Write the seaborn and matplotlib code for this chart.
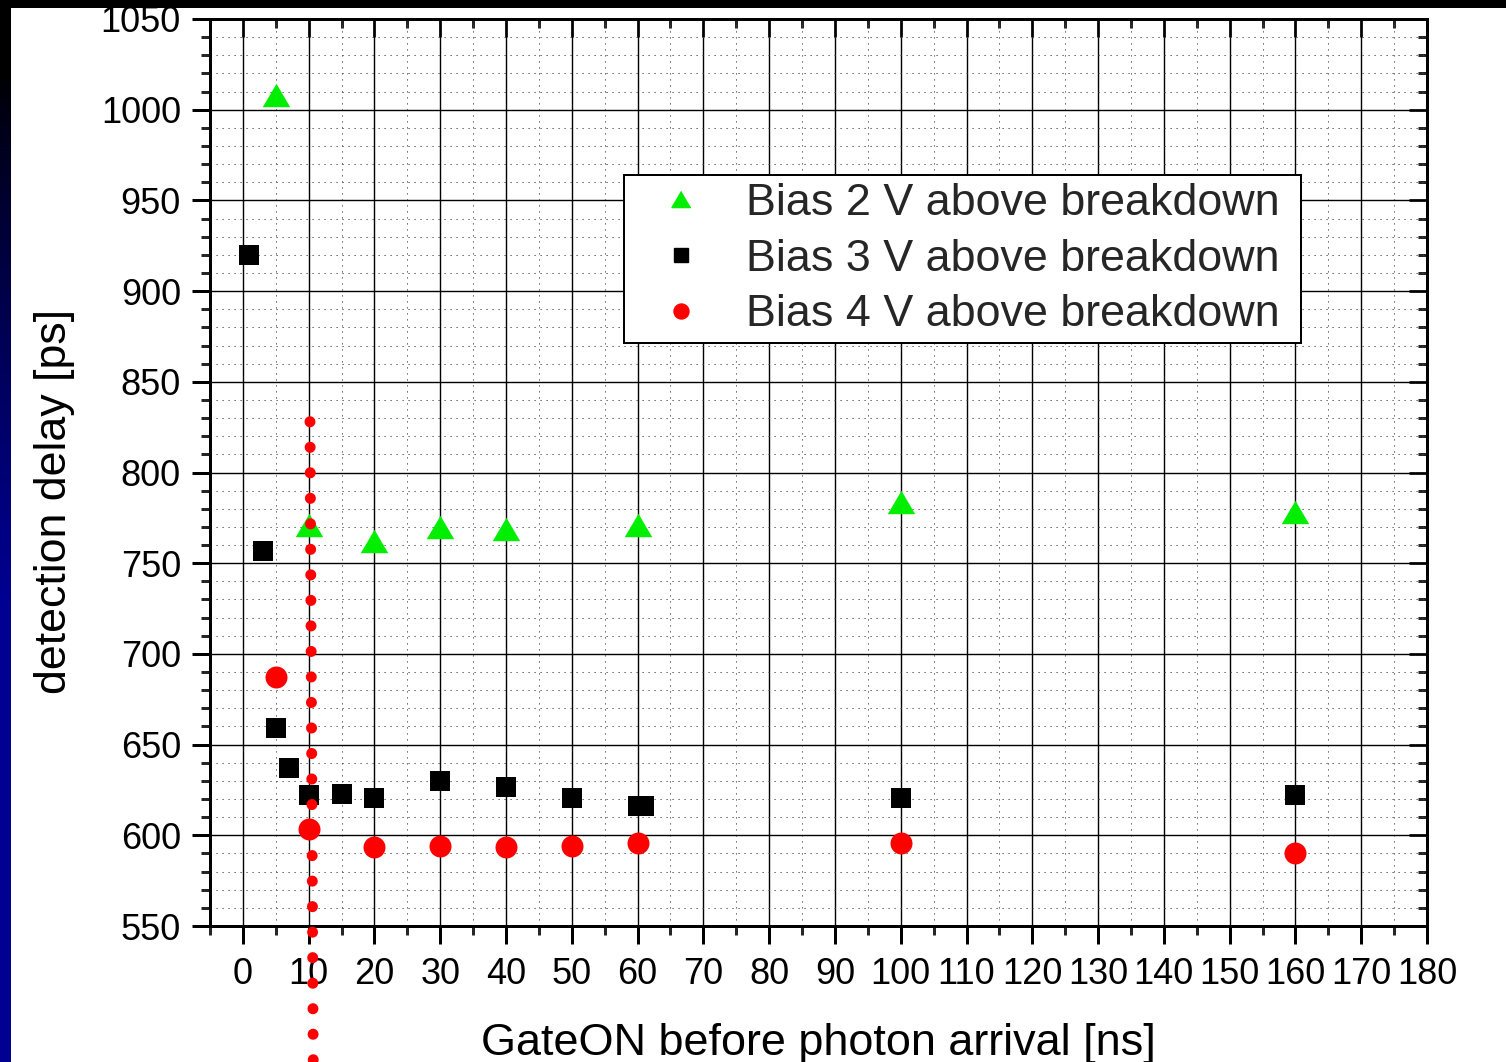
import numpy as np
import pandas as pd
import matplotlib
matplotlib.use("Agg")
import matplotlib.pyplot as plt
from matplotlib.lines import Line2D
from matplotlib.patches import Rectangle
from matplotlib.ticker import MultipleLocator
import seaborn as sns

# ---- measured detection delays ----
bias2_x = [5, 10, 20, 30, 40, 60, 100, 160]
bias2_y = [1008, 771, 762, 770, 769, 771, 784, 778]

bias3_x = [1, 3, 5, 7, 10, 15, 20, 30, 40, 50, 60, 61, 100, 160]
bias3_y = [920, 756.5, 659, 637, 622, 623, 620.5, 630, 626.5, 620.5, 616, 616, 620.5, 622]

bias4_x = [5, 10, 20, 30, 40, 50, 60, 100, 160]
bias4_y = [687, 603.5, 593.5, 594, 593.5, 594, 596, 596, 590.5]

labels = ["Bias 2 V above breakdown",
          "Bias 3 V above breakdown",
          "Bias 4 V above breakdown"]

# marker line at the 10 ns gate position
gate_line_x = [10.2, 10.7]
gate_line_y = [828, 470]

xlabel = "GateON before photon arrival [ns]"
ylabel = "detection delay [ps]"
x_ticks = list(range(0, 181, 10))
y_ticks = list(range(550, 1051, 50))

df = pd.concat([
    pd.DataFrame({"x": bias2_x, "y": bias2_y, "series": labels[0]}),
    pd.DataFrame({"x": bias3_x, "y": bias3_y, "series": labels[1]}),
    pd.DataFrame({"x": bias4_x, "y": bias4_y, "series": labels[2]}),
])

sns.set_style("ticks")
plt.rcParams["font.family"] = ["Liberation Sans", "DejaVu Sans"]

DPI = 100
PT = 0.72  # points per pixel at this dpi
fig = plt.figure(figsize=(15.06, 10.62), dpi=DPI)
fig.patch.set_facecolor("white")

# slide background: black band at top, dark blue strip on the left
fig.patches.append(Rectangle((0, 1 - 8 / 1062), 1, 8 / 1062, transform=fig.transFigure,
                             facecolor="black", edgecolor="none", zorder=-5))
strip = fig.add_axes([0, 0, 11 / 1506, 1 - 8 / 1062])
rows = np.linspace(0, 1, 400)
blue = np.clip((rows - 0.06) / 0.5, 0, 1) ** 0.8 * 0.57
grad = np.zeros((400, 1, 3))
grad[:, 0, 2] = blue
strip.imshow(grad, aspect="auto", extent=[0, 1, 1, 0])
strip.set_axis_off()

ax = fig.add_axes([210 / 1506, 136 / 1062, 1217 / 1506, 907 / 1062])
ax.set_facecolor("white")

tri = [(0, 0.85), (-1, -0.85), (1, -0.85)]
styles = {labels[0]: dict(marker=tri, color="#00ee00", s=(27.5 * PT) ** 2),
          labels[1]: dict(marker="s", color="black", s=(20 * PT) ** 2),
          labels[2]: dict(marker="o", color="#ff0000", s=(22 * PT) ** 2)}

for lab in labels:
    st = styles[lab]
    sns.scatterplot(data=df[df["series"] == lab], x="x", y="y", ax=ax,
                    marker=st["marker"], color=st["color"], s=st["s"],
                    linewidth=0, zorder=4, legend=False, clip_on=False)

# dotted vertical marker at 10 ns (runs past the frame)
ax.plot(gate_line_x, gate_line_y, color="#ff0000", lw=11 * PT,
        dashes=(0.01, 2.31), dash_capstyle="round",
        clip_on=False, zorder=5)

ax.set_xlim(-5, 180)
ax.set_ylim(550, 1050)
ax.set_xticks(x_ticks)
ax.set_yticks(y_ticks)
ax.xaxis.set_minor_locator(MultipleLocator(5))
ax.yaxis.set_minor_locator(MultipleLocator(10))

ax.grid(which="major", color="black", lw=1.4 * PT, ls="-", zorder=0)
ax.grid(which="minor", color="#444444", lw=1.0 * PT, ls=(0, (1.2, 4.8)), zorder=0)
ax.set_axisbelow(True)

for sp in ax.spines.values():
    sp.set_visible(True)
    sp.set_linewidth(3 * PT)
    sp.set_color("black")

tick_font = 26
ax.tick_params(axis="both", which="major", length=18 * PT, width=3 * PT,
               labelsize=tick_font, colors="black")
ax.tick_params(axis="both", which="minor", length=9 * PT, width=3 * PT)
ax.tick_params(axis="x", which="both", direction="out", top=False, pad=9)
ax.tick_params(axis="y", which="both", direction="out", right=False, pad=8)

# mirrored inward ticks on top and right
top = ax.secondary_xaxis("top")
top.set_xticks(x_ticks)
top.xaxis.set_minor_locator(MultipleLocator(5))
top.tick_params(which="major", direction="in", length=18 * PT, width=3 * PT, labeltop=False)
top.tick_params(which="minor", direction="in", length=9 * PT, width=3 * PT)
top.spines["top"].set_linewidth(3 * PT)
right = ax.secondary_yaxis("right")
right.set_yticks(y_ticks)
right.yaxis.set_minor_locator(MultipleLocator(10))
right.tick_params(which="major", direction="in", length=18 * PT, width=3 * PT, labelright=False)
right.tick_params(which="minor", direction="in", length=9 * PT, width=3 * PT)
right.spines["right"].set_linewidth(3 * PT)

ax.set_xlabel(xlabel, fontsize=32.4, color="black")
ax.xaxis.set_label_coords(0.5, -(1044 - 926) / 907)
ax.xaxis.label.set_va("center")
ax.set_ylabel(ylabel, fontsize=32.2, color="black")
ax.yaxis.set_label_coords((55 - 210) / 1217, (926 - 501) / 907)
ax.yaxis.label.set_va("center")

handles = [Line2D([], [], ls="none", marker=tri, color="#00ee00", markersize=19 * PT),
           Line2D([], [], ls="none", marker="s", color="black", markersize=14 * PT),
           Line2D([], [], ls="none", marker="o", color="#ff0000", markersize=15 * PT)]
leg_x0 = (624 - 210) / 1217
leg_w = 677 / 1217
leg_top = (926 - 175) / 907
leg = ax.legend(handles, labels, loc="upper left", mode="expand",
                bbox_to_anchor=(leg_x0, leg_top - 0.2, leg_w, 0.2),
                borderaxespad=0, fontsize=32.3, frameon=True, fancybox=False,
                edgecolor="black", framealpha=1, handlelength=2.2,
                handletextpad=0.35, labelspacing=0.325, borderpad=0.18)
leg.get_frame().set_linewidth(2 * PT)
leg.set_zorder(10)

fig.savefig("out.png", dpi=DPI)
